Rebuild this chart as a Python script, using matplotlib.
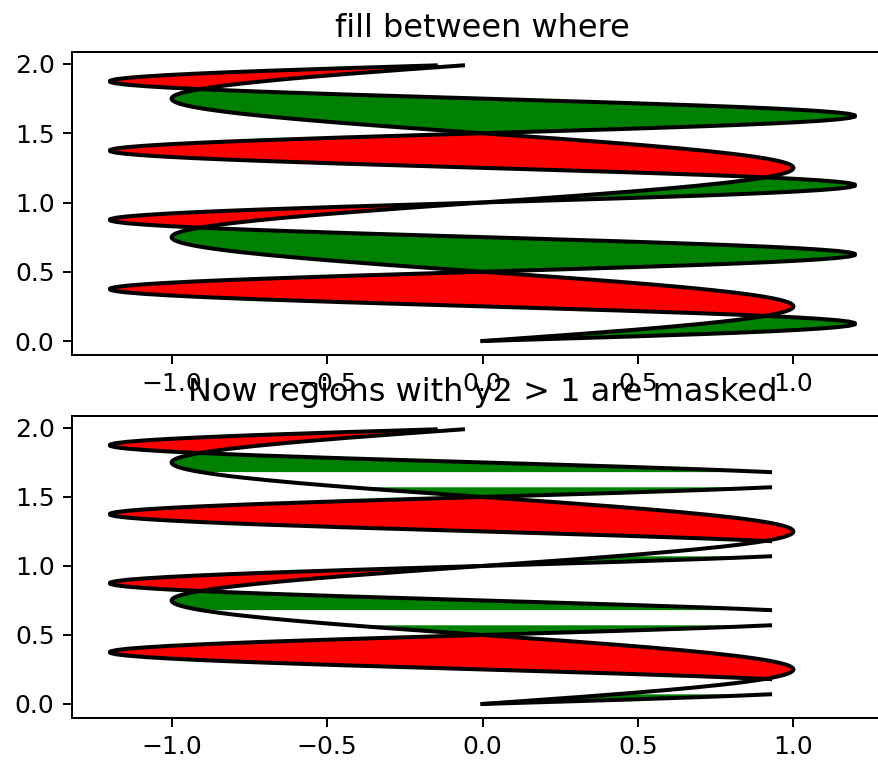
import numpy as np
import matplotlib
matplotlib.use("Agg")
import matplotlib.pyplot as plt

# Data: curves of the fill_betweenx demo
y = np.arange(0.0, 2.0, 0.01)
amp1, freq1 = 1.0, 2.0
amp2, freq2 = 1.2, 4.0
x1 = amp1 * np.sin(freq1 * np.pi * y)
x2 = amp2 * np.sin(freq2 * np.pi * y)
mask_threshold = 1.0
titles = ["fill between where", "Now regions with y2 > 1 are masked"]
xticks = [-1.0, -0.5, 0.0, 0.5, 1.0]
yticks = [0.0, 0.5, 1.0, 1.5, 2.0]

DPI = 180
plt.rcParams['font.family'] = ['DejaVu Sans']
plt.rcParams['font.size'] = 10
plt.rcParams['axes.linewidth'] = 0.8

fig = plt.figure(figsize=(878 / DPI, 761 / DPI), dpi=DPI)
ax = fig.add_axes([72 / 878, 1 - 354.8 / 761, 821 / 878, 303.2 / 761])
ax1 = fig.add_axes([72 / 878, 1 - 717.7 / 761, 821 / 878, 302.1 / 761])

def draw(a, xx2, title):
    a.fill_betweenx(y, x1, xx2, where=xx2 >= x1, facecolor='green',
                    edgecolor='none', linewidth=0)
    a.fill_betweenx(y, x1, xx2, where=xx2 <= x1, facecolor='red',
                    edgecolor='none', linewidth=0)
    a.plot(x1, y, color='black', lw=1.6)
    a.plot(xx2, y, color='black', lw=1.6)
    a.set_title(title, fontsize=12.8)
    a.set_xlim(-1.32, 1.32)
    a.set_ylim(-0.0995, 2.0895)
    a.set_xticks(xticks)
    a.set_yticks(yticks)
    a.tick_params(direction='out', length=3.5, width=0.8, top=False, right=False)

draw(ax, x2, titles[0])
x2m = np.ma.masked_greater(x2, mask_threshold)
draw(ax1, x2m, titles[1])

fig.savefig("out.png", dpi=DPI)
